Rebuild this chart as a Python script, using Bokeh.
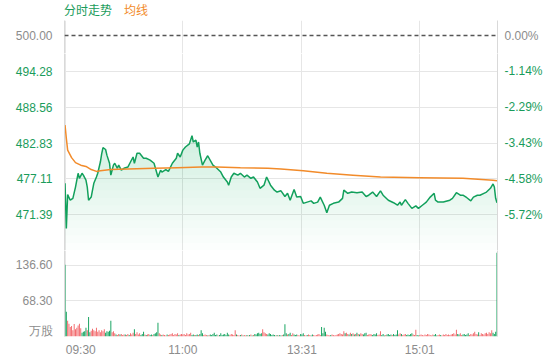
import numpy as np
from bokeh.plotting import figure
from bokeh.layouts import column
from bokeh.models import LinearAxis, FixedTicker, Grid, Span, Range1d, ColumnDataSource, Div
from bokeh.embed import file_html
from bokeh.resources import INLINE

# ---------------- data ----------------
prev_close = 500.0
price_ticks = [471.39, 477.11, 482.83, 488.56, 494.28]
pct_labels = ["-5.72%", "-4.58%", "-3.43%", "-2.29%", "-1.14%"]
vol_ticks = [68.3, 136.6]
vol_tick_labels = ["68.30", "136.60"]
time_ticks = [0, 90, 181, 271]          # minutes since 09:30 (HK session, lunch 12:00-13:00)
time_labels = ["09:30", "11:00", "13:31", "15:01"]
legend_labels = ["分时走势", "均线"]

price_min = [0, 1, 2, 4, 6, 8, 9, 10, 11, 13, 14, 16, 17, 18, 20, 21, 22, 24, 25, 27,
             28, 29, 31, 32, 34, 35, 36, 37, 38, 40, 41, 43, 45, 48, 50, 52, 53, 55, 57, 60,
             62, 65, 68, 71, 73, 74, 77, 79, 82, 85, 86, 88, 90, 92, 95, 97, 98, 100, 101, 102,
             103, 105, 107, 109, 113, 115, 119, 121, 124, 125, 127, 129, 132, 134, 137, 139, 142, 144, 147, 149,
             152, 154, 157, 160, 162, 165, 168, 170, 172, 175, 177, 180, 182, 185, 188, 190, 193, 195, 198, 200,
             202, 205, 209, 212, 213, 216, 219, 223, 227, 230, 232, 235, 238, 241, 243, 247, 251, 254, 256, 257,
             260, 262, 265, 268, 270, 273, 276, 279, 282, 283, 285, 289, 294, 296, 299, 302, 304, 307, 310, 312,
             315, 317, 320, 322, 325, 327, 328, 329, 330]
price_val = [476.4, 469.2, 474.6, 473.7, 474.0, 475.8, 476.9, 478.0, 477.2, 478.0, 477.7, 476.9, 475.8, 473.7, 474.2, 475.3, 476.4, 477.4, 478.0, 479.8,
             481.1, 482.1, 481.8, 480.9, 479.6, 477.7, 478.5, 479.3, 479.6, 478.8, 479.3, 478.5, 478.8, 479.0, 479.8, 480.6, 479.6, 481.2, 481.2, 480.4,
             480.4, 480.1, 479.6, 477.4, 478.5, 478.2, 478.6, 478.3, 479.6, 480.4, 481.2, 480.6, 481.7, 482.2, 482.7, 484.0, 483.0, 483.3, 482.2, 483.0,
             481.2, 479.3, 480.1, 480.8, 479.3, 479.0, 478.2, 477.4, 476.6, 476.1, 477.4, 478.0, 477.7, 478.0, 477.4, 477.7, 477.2, 477.4, 476.6, 475.6,
             476.1, 477.4, 476.1, 475.3, 475.0, 475.2, 474.3, 474.8, 473.7, 475.4, 474.2, 474.3, 473.2, 473.4, 473.6, 473.2, 473.4, 474.2, 472.9, 471.7,
             472.9, 473.2, 473.4, 474.0, 475.3, 474.8, 475.0, 474.9, 475.0, 474.3, 474.5, 475.0, 474.3, 475.2, 474.5, 473.7, 473.3, 472.9, 473.4, 472.9,
             473.8, 473.2, 472.4, 472.8, 472.4, 472.9, 473.4, 474.2, 474.8, 473.7, 473.4, 473.4, 473.7, 474.0, 474.9, 474.5, 474.5, 474.1, 473.6, 474.2,
             474.5, 474.5, 474.8, 475.0, 475.6, 476.3, 475.8, 474.0, 473.3]

avg_min = [0, 1, 2, 5, 8, 12, 16, 20, 24, 27, 35, 48, 68, 86, 104, 116, 134, 155, 165, 182,
           200, 220, 241, 271, 304, 327, 330]
avg_val = [485.7, 483.6, 481.7, 480.5, 479.7, 479.3, 479.1, 478.6, 478.3, 478.4, 478.6, 478.7, 478.8, 478.9, 479.0, 479.0, 478.9, 478.8, 478.7, 478.4,
           478.0, 477.7, 477.4, 477.3, 477.2, 476.9, 476.8]

volume = [137.5, 47.7, 30, 24.6, 18, 20, 12, 24, 14, 17,
          21, 24.6, 16, 7, 9, 10, 17, 12, 37.5, 8,
          11, 15, 12, 10, 17, 9, 12, 8, 12, 10,
          14, 7, 10, 9, 11, 30, 8, 10, 6, 4,
          3, 5, 4, 5, 3, 4, 4, 3, 5, 3,
          6, 4, 7, 14, 5, 8, 4, 6, 3, 5,
          9, 4, 3, 4, 5, 3, 4, 3, 5, 6,
          8, 26.6, 6, 4, 3, 4, 3, 2, 4, 3,
          4, 5, 6, 3, 5, 4, 6, 3, 4, 5,
          4, 5, 3, 6, 4, 5, 7, 3, 4, 3,
          3, 4, 3, 5, 12, 6, 3, 4, 3, 2,
          3, 4, 3, 5, 7, 3, 4, 2, 3, 6,
          3, 4, 5, 3, 7, 4, 3, 5, 4, 3,
          12, 4, 3, 2, 3, 4, 2, 3, 2, 3,
          2, 3, 4, 2, 3, 5, 4, 6, 7, 5,
          6, 14, 8, 6, 5, 4, 6, 5, 3, 4,
          3, 2, 3, 2, 3, 2, 3, 4, 23.5, 6,
          4, 5, 7, 3, 6, 4, 3, 4, 3, 2,
          5, 4, 6, 3, 2, 3, 4, 3, 2, 4,
          3, 2, 3, 4, 5, 3, 18, 6, 17, 9,
          4, 3, 2, 3, 4, 3, 2, 3, 4, 5,
          6, 5, 4, 10, 6, 7, 5, 4, 7, 5,
          6, 4, 5, 7, 5, 4, 6, 5, 4, 6,
          7, 3, 4, 5, 4, 3, 5, 4, 6, 3,
          4, 10, 3, 5, 2, 3, 4, 5, 3, 4,
          3, 5, 3, 4, 12, 4, 6, 5, 3, 4,
          5, 3, 4, 3, 5, 6, 4, 3, 13, 3,
          2, 3, 4, 3, 2, 4, 3, 5, 4, 3,
          2, 4, 3, 5, 2, 3, 4, 3, 2, 4,
          3, 5, 3, 4, 3, 4, 5, 6, 4, 13,
          5, 4, 6, 3, 4, 5, 3, 4, 6, 3,
          5, 4, 6, 9, 5, 4, 8, 3, 6, 5,
          4, 6, 7, 5, 8, 6, 12, 7, 5, 9,
          160.6]
# r = up minute, g = down minute
vol_dir = "".join([
    "ggrrrrrrrr", "rrrggggrgg", "rrrrrrrrrr", "rgggggrrrg", "rrgrrrgrrg",
    "rrrgrrrrgg", "grgrrggrgg", "ggrrgrrrgr", "rrrrrrrgrr", "rrrrrrrggr",
    "ggrgggrrrg", "rggggggrgg", "ggggggrrrr", "rgrrgrgrrg", "rgrgrggggg",
    "grrrrggggg", "grgrggrggg", "rggrrgggrr", "gggrrgrrgg", "rrrrrrgggg",
    "rrrgrrrrrr", "rrrrgrrgrg", "rgrgrgrrgg", "grrrrggggr", "rrgggrgggg",
    "rggggrrgrr", "rgggggrrrg", "grrrrrrrrr", "rrgggrrgrr", "rrrrrrrrrr",
    "ggrrgggggr", "rrrrrrgrrr", "rrrrrrrggg", "g"])

# ---------------- style ----------------
GREEN = "#12a05c"
GREEN_TXT = "#1a9c5b"
ORANGE = "#f28b2a"
RED_BAR = "#f26b6e"
GREEN_BAR = "#15a35f"
GREY_TXT = "#8c8c8c"
GRID = "#e6e6e6"
AXLINE = "#d9d9d9"
FONT = "Liberation Sans"
CJK = "Noto Sans CJK SC"

n_min = 330
p_lo, p_split, p_hi = 465.67, 497.13, 502.4
W = 560
x_rng = Range1d(-0.4, n_min + 0.4)


def plain_axis(**kw):
    base = dict(major_tick_line_color=None, minor_tick_line_color=None,
                major_label_text_font=FONT, major_label_text_font_size="12px")
    base.update(kw)
    return LinearAxis(**base)


def pane(height, y_range, top=0, bottom=0):
    f = figure(width=W, height=height, x_range=x_rng, y_range=y_range,
               x_axis_type=None, y_axis_type=None, output_backend="svg", toolbar_location=None,
               min_border_left=64, min_border_right=63, min_border_top=top, min_border_bottom=bottom,
               outline_line_color=None, background_fill_color="white", border_fill_color="white")
    f.add_layout(Grid(dimension=0, ticker=FixedTicker(ticks=time_ticks), grid_line_color=GRID))
    return f


# ---------------- legend row ----------------
legend = Div(text=(f'<span style="color:{GREEN_TXT}">{legend_labels[0]}</span>'
                   f'<span style="color:{ORANGE};margin-left:12px">{legend_labels[1]}</span>'),
             width=W, height=20,
             styles={"padding-left": "64px", "font-family": CJK, "font-size": "12px",
                     "line-height": "20px", "margin": "0", "white-space": "nowrap"})

# ---------------- top strip: previous close ----------------
pa = pane(33, Range1d(p_split, p_hi))
pa.add_layout(Span(location=prev_close, dimension="width", line_color="#555555",
                   line_dash="4 3", line_width=1.5))
pa.add_layout(plain_axis(ticker=FixedTicker(ticks=[prev_close]),
                         major_label_overrides={prev_close: f"{prev_close:.2f}"},
                         axis_line_color=AXLINE, major_label_text_color=GREY_TXT,
                         major_label_standoff=6), "left")
pa.add_layout(plain_axis(ticker=FixedTicker(ticks=[prev_close]),
                         major_label_overrides={prev_close: "0.00%"},
                         axis_line_color=AXLINE, major_label_text_color=GREY_TXT,
                         major_label_standoff=1), "right")

# ---------------- price pane ----------------
p1 = pane(197, Range1d(p_lo, p_split))
p1.add_layout(Grid(dimension=1, ticker=FixedTicker(ticks=price_ticks), grid_line_color=GRID))

pm = np.array(price_min, dtype=float)
pv = np.array(price_val, dtype=float)
# gradient-like fill under the price line (fades to white at the pane bottom)
n_bands = 14
for k in range(n_bands):
    b = p_lo + k * 1.2
    p1.varea(x=pm, y1=pv, y2=np.minimum(pv, b), fill_color="#1fb56c", fill_alpha=0.012)

p1.line(pm, pv, line_color=GREEN, line_width=1.5)
p1.line(avg_min, avg_val, line_color=ORANGE, line_width=1.5)

p1.add_layout(plain_axis(ticker=FixedTicker(ticks=price_ticks),
                         major_label_overrides={v: f"{v:.2f}" for v in price_ticks},
                         axis_line_color=AXLINE, major_label_text_color=GREEN_TXT,
                         major_label_standoff=6), "left")
p1.add_layout(plain_axis(ticker=FixedTicker(ticks=price_ticks),
                         major_label_overrides={v: s for v, s in zip(price_ticks, pct_labels)},
                         axis_line_color=AXLINE, major_label_text_color=GREEN_TXT,
                         major_label_standoff=1), "right")

# ---------------- volume pane ----------------
p2 = pane(110, Range1d(0, 165), bottom=24)
p2.add_layout(Grid(dimension=1, ticker=FixedTicker(ticks=vol_ticks), grid_line_color=GRID))

assert len(volume) == len(vol_dir) == n_min + 1
src = ColumnDataSource(dict(x=list(range(n_min + 1)), top=volume,
                            c=[RED_BAR if d == "r" else GREEN_BAR for d in vol_dir]))
p2.vbar(x="x", top="top", width=0.75, fill_color="c", line_color=None, source=src)

unit_pos = 11
p2.add_layout(plain_axis(ticker=FixedTicker(ticks=[unit_pos] + vol_ticks),
                         major_label_overrides={unit_pos: "万股",
                                                **{v: s for v, s in zip(vol_ticks, vol_tick_labels)}},
                         axis_line_color=AXLINE, major_label_text_color=GREY_TXT,
                         major_label_standoff=6), "left")
p2.add_layout(plain_axis(ticker=FixedTicker(ticks=[]), axis_line_color=AXLINE,
                         major_label_text_font_size="0px"), "right")

label_pos = [t + 12 if i == 0 else t for i, t in enumerate(time_ticks)]
p2.add_layout(plain_axis(ticker=FixedTicker(ticks=label_pos),
                         major_label_overrides={p: s for p, s in zip(label_pos, time_labels)},
                         axis_line_color=None, major_label_text_color=GREY_TXT,
                         major_label_standoff=0), "below")

layout = column(legend, pa, p1, p2, spacing=0)
open("out.html", "w").write(file_html(layout, INLINE))
